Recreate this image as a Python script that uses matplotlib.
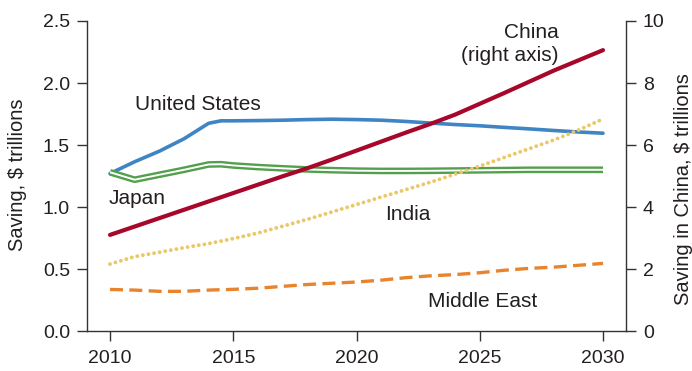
import matplotlib.pyplot as plt

plt.rcParams['font.family'] = ['Liberation Sans', 'DejaVu Sans']

# data (trillions of $)
years = [2010, 2011, 2012, 2013, 2014, 2014.5, 2015, 2016, 2017, 2018, 2019, 2020,
         2021, 2022, 2023, 2024, 2025, 2026, 2027, 2028, 2029, 2030]
us = [1.27, 1.365, 1.45, 1.55, 1.675, 1.695, 1.695, 1.697, 1.70, 1.705, 1.708, 1.705,
      1.70, 1.69, 1.677, 1.665, 1.655, 1.642, 1.63, 1.617, 1.605, 1.595]
japan = [1.28, 1.22, 1.26, 1.30, 1.343, 1.345, 1.335, 1.322, 1.312, 1.303, 1.297, 1.293,
         1.291, 1.291, 1.292, 1.294, 1.296, 1.298, 1.30, 1.30, 1.30, 1.30]
india = [0.54, 0.60, 0.635, 0.672, 0.705, 0.725, 0.745, 0.79, 0.845, 0.90, 0.96, 1.02,
         1.08, 1.14, 1.20, 1.265, 1.33, 1.40, 1.47, 1.54, 1.62, 1.71]
mideast = [0.335, 0.33, 0.32, 0.32, 0.33, 0.333, 0.336, 0.345, 0.36, 0.375, 0.385, 0.395,
           0.41, 0.43, 0.445, 0.455, 0.47, 0.49, 0.505, 0.515, 0.53, 0.545]
china = [3.10, 3.37, 3.64, 3.91, 4.18, 4.315, 4.45, 4.72, 4.99, 5.25, 5.53, 5.82,
         6.11, 6.40, 6.68, 6.98, 7.33, 7.68, 8.04, 8.40, 8.73, 9.06]

xticks = [2010, 2015, 2020, 2025, 2030]
left_ticks = [0.0, 0.5, 1.0, 1.5, 2.0, 2.5]
right_ticks = [0, 2, 4, 6, 8, 10]

txt = '#231f20'
fs_tick = 14
fs_lab = 15
fs_axis = 14.5

fig = plt.figure(figsize=(6.92, 3.71), dpi=100)
ax = fig.add_axes([0.1262, 0.1078, 0.778, 0.8356])
ax2 = ax.twinx()

ax.plot(years, us, color='#3f85c4', lw=2.6, solid_capstyle='round',
        solid_joinstyle='round')
ax.plot(years, japan, color='#52a04b', lw=4.8, solid_capstyle='butt',
        solid_joinstyle='round')
ax.plot(years, japan, color='white', lw=1.4, solid_capstyle='butt',
        solid_joinstyle='round')
ax.plot(years, india, color='#ebc867', lw=2.8, linestyle=(0, (0.01, 1.45)),
        dash_capstyle='round')
ax.plot(years, mideast, color='#e8842e', lw=2.4, linestyle=(0, (3.9, 1.9)))
ax2.plot(years, china, color='#a6072a', lw=3.0, solid_capstyle='round',
         solid_joinstyle='round')

ax.set_xlim(2009.08, 2030.92)
ax.set_ylim(0, 2.5)
ax2.set_ylim(0, 10)
ax.set_xticks(xticks)
ax.set_yticks(left_ticks)
ax.set_yticklabels([f'{v:.1f}' for v in left_ticks])
ax2.set_yticks(right_ticks)

for a in (ax, ax2):
    a.spines['top'].set_visible(False)
    for s in a.spines.values():
        s.set_color('#333333')
        s.set_linewidth(1.0)
    a.tick_params(length=7.4, width=1.0, color='#333333', labelsize=fs_tick,
                  labelcolor=txt, pad=5)
ax2.spines['left'].set_visible(False)
ax2.spines['bottom'].set_visible(False)
ax.spines['right'].set_visible(False)
ax.tick_params(axis='x', pad=6)

fig.text(0.0246, 0.53, 'Saving, $ trillions', rotation=90, ha='center',
         va='center', fontsize=fs_axis, color=txt)
fig.text(0.988, 0.49, 'Saving in China, $ trillions', rotation=90, ha='center',
         va='center', fontsize=fs_axis, color=txt)

ax.text(2011.0, 1.83, 'United States', fontsize=fs_lab, color=txt, va='center')
ax.text(2009.95, 1.07, 'Japan', fontsize=fs_lab, color=txt, va='center')
ax.text(2021.15, 0.94, 'India', fontsize=fs_lab, color=txt, va='center')
ax.text(2022.9, 0.24, 'Middle East', fontsize=fs_lab, color=txt, va='center')
ax.text(2028.2, 2.41, 'China', fontsize=fs_lab, color=txt, va='center', ha='right')
ax.text(2028.2, 2.225, '(right axis)', fontsize=fs_lab, color=txt, va='center',
        ha='right')

fig.savefig('out.png', dpi=100)
